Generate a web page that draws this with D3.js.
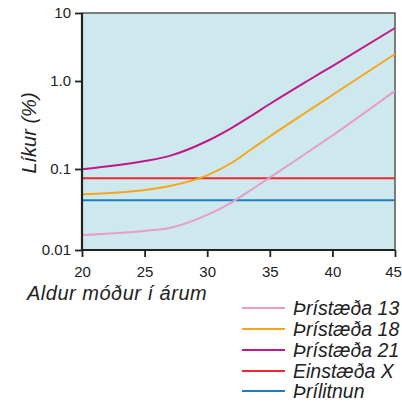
<!DOCTYPE html>
<html><head><meta charset="utf-8">
<script src="https://cdn.jsdelivr.net/npm/d3@7"></script>
<style>body{margin:0;background:#fff}svg{display:block}</style>
</head><body><svg id="c" width="402" height="404"></svg>
<script>
const ages = [20, 25, 27, 30, 32, 33.5, 35, 38, 40, 45];
const t21 = [0.099, 0.123, 0.141, 0.208, 0.296, 0.400, 0.548, 1.0, 1.66, 6.02];
const t18 = [0.0487, 0.0551, 0.0617, 0.0836, 0.1185, 0.1666, 0.234, 0.450, 0.693, 2.50];
const t13 = [0.0153, 0.0172, 0.0187, 0.0271, 0.0391, 0.0551, 0.0785, 0.154, 0.240, 0.774];
const einX = [0.077, 0.077];
const trilit = [0.041, 0.041];
const flatAges = [20, 45];
const xTicks = [20, 25, 30, 35, 40, 45];
const yTicks = [0.01, 0.1, 1, 10];
const yTickLabels = ["0.01", "0.1", "1.0", "10"];
const seriesNames = ["Þrístæða 13", "Þrístæða 18", "Þrístæða 21", "Einstæða X", "Þrílitnun"];
const seriesColors = ["#e89cc6", "#f7a51d", "#c4168a", "#ee2a2e", "#1d7cc4"];

const svg = d3.select("#c");
const font = "'Liberation Sans', Arial, sans-serif";
const x = d3.scaleLinear().domain([20, 45]).range([82, 395]);
const y = d3.scaleLog().domain([0.01, 0.1, 1, 10]).range([250, 169, 81, 13]);

svg.append("rect").attr("x", x(20)).attr("y", y(10)).attr("width", x(45) - x(20)).attr("height", y(0.01) - y(10))
  .attr("fill", "#cde9ed").attr("stroke", "#555").attr("stroke-width", 1.5);

const line = d3.line().x(d => x(d[0])).y(d => y(d[1])).curve(d3.curveMonotoneX);
const data = [
  [ages, t13], [ages, t18], [ages, t21], [flatAges, einX], [flatAges, trilit]
];
const order = [4, 3, 0, 1, 2];
order.forEach(i => {
  const [xs, vs] = data[i];
  svg.append("path").datum(xs.map((a, j) => [a, vs[j]]))
    .attr("d", line).attr("fill", "none").attr("stroke", seriesColors[i]).attr("stroke-width", 2);
});

// axes
const xAxis = svg.append("g").attr("transform", `translate(0,${y(0.01)})`)
  .call(d3.axisBottom(x).tickValues(xTicks).tickSize(7).tickPadding(9).tickFormat(d3.format("d")));
const yAxis = svg.append("g").attr("transform", `translate(${x(20)},0)`)
  .call(d3.axisLeft(y).tickValues(yTicks).tickSize(7).tickPadding(4).tickFormat((d, i) => yTickLabels[i]));
[xAxis, yAxis].forEach(g => {
  g.select(".domain").attr("stroke", "#222").attr("stroke-width", 2.2);
  g.selectAll(".tick line").attr("stroke", "#222").attr("stroke-width", 1.8);
  g.selectAll("text").attr("font-family", font).attr("font-size", 15).attr("fill", "#222");
});
xAxis.selectAll(".tick text").filter(d => d === 45).attr("dx", -2);
xAxis.select(".domain").attr("d", `M${x(20)},0H${x(45)}`);
yAxis.select(".domain").attr("d", `M0,${y(0.01)}V${y(10)}`);

svg.append("text").attr("transform", "translate(36,133) rotate(-90)").attr("text-anchor", "middle")
  .attr("font-family", font).attr("font-style", "italic").attr("font-size", 20).attr("fill", "#222").text("Líkur (%)");
svg.append("text").attr("x", 27).attr("y", 300).attr("letter-spacing", 0.5)
  .attr("font-family", font).attr("font-style", "italic").attr("font-size", 20).attr("fill", "#222").text("Aldur móður í árum");

const legY = [308, 329, 350, 371, 391];
seriesNames.forEach((n, i) => {
  svg.append("line").attr("x1", 242).attr("x2", 285).attr("y1", legY[i]).attr("y2", legY[i])
    .attr("stroke", seriesColors[i]).attr("stroke-width", 2);
  svg.append("text").attr("x", 293).attr("y", legY[i] + 7).attr("font-family", font).attr("font-style", "italic")
    .attr("font-size", 19.5).attr("fill", "#222").text(n);
});
</script></body></html>
